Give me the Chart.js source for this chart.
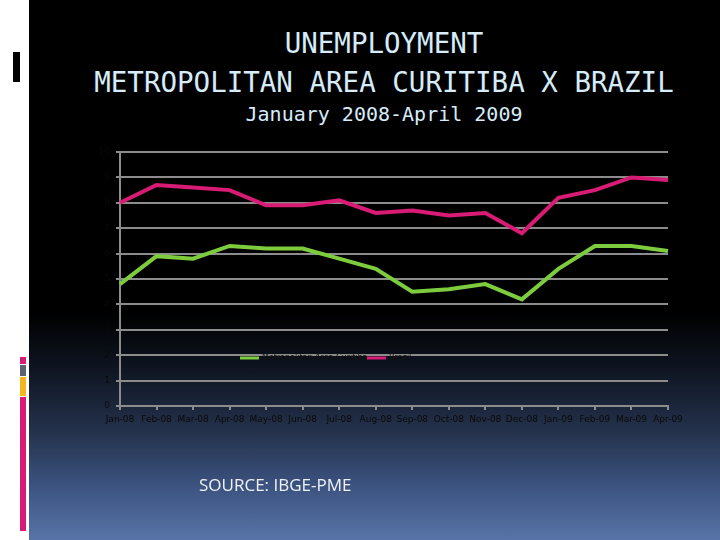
<!DOCTYPE html>
<html>
<head>
<meta charset="utf-8">
<script src="https://cdn.jsdelivr.net/npm/chart.js@4/dist/chart.umd.min.js"></script>
<style>
  html,body{margin:0;padding:0;width:720px;height:540px;overflow:hidden;background:#fff;}
  #slide{position:absolute;left:29px;top:0;width:691px;height:540px;
    background:linear-gradient(to bottom,#000 0%,#000 58%,#0e1420 68%,#24324c 80%,#3c5380 90%,#5874a8 100%);}
  .t{position:absolute;left:0;width:768px;text-align:center;color:#d6ecfa;font-family:"DejaVu Sans Mono",monospace;white-space:nowrap;}
  #src{position:absolute;left:199px;top:473px;color:#eef2f8;font-family:"Open Sans",sans-serif;font-size:17px;white-space:nowrap;}
  #c{position:absolute;left:0;top:0;}
  .dec{position:absolute;}
</style>
</head>
<body>
<div id="slide"></div>
<div class="dec" style="left:13px;top:52px;width:7px;height:30px;background:#000"></div>
<div class="dec" style="left:20px;top:357px;width:6px;height:7px;background:#d81b74"></div>
<div class="dec" style="left:20px;top:365px;width:6px;height:11px;background:#5a6470"></div>
<div class="dec" style="left:20px;top:377px;width:6px;height:19px;background:#f2b71e"></div>
<div class="dec" style="left:20px;top:397px;width:6px;height:134px;background:#d81b74"></div>
<div class="t" style="top:29px;font-size:27.5px;line-height:28px;">UNEMPLOYMENT</div>
<div class="t" style="top:68px;font-size:27.5px;line-height:28px;">METROPOLITAN AREA CURITIBA X BRAZIL</div>
<div class="t" style="top:104px;font-size:20px;line-height:20px;">January 2008-April 2009</div>
<canvas id="c" width="720" height="540"></canvas>
<div id="src">SOURCE: IBGE-PME</div>
<script>
const months = ["Jan-08","Feb-08","Mar-08","Apr-08","May-08","Jun-08","Jul-08","Aug-08","Sep-08","Oct-08","Nov-08","Dec-08","Jan-09","Feb-09","Mar-09","Apr-09"];
const curitiba = [4.8,5.9,5.8,6.3,6.2,6.2,5.8,5.4,4.5,4.6,4.8,4.2,5.4,6.3,6.3,6.1];
const brazil = [8.0,8.7,8.6,8.5,7.9,7.9,8.1,7.6,7.7,7.5,7.6,6.8,8.2,8.5,9.0,8.9];
const seriesNames = ["Metropolitan Area Curitiba","Brazil"];
const yTicks = [0,1,2,3,4,5,6,7,8,9,10];

const inLegend = {
  id:'inLegend',
  afterDraw(chart){
    const ctx = chart.ctx;
    const pos = [[240,358],[367,358]];
    ctx.save();
    ctx.font = '8px "DejaVu Sans", sans-serif';
    ctx.textBaseline = 'middle';
    chart.data.datasets.forEach((ds,i)=>{
      const [x,y] = pos[i];
      ctx.strokeStyle = ds.borderColor;
      ctx.lineWidth = 3;
      ctx.beginPath(); ctx.moveTo(x,y); ctx.lineTo(x+19,y); ctx.stroke();
      ctx.fillStyle = '#111';
      ctx.fillText(ds.label, x+22, y);
    });
    ctx.restore();
  }
};

new Chart(document.getElementById('c'),{
  type:'line',
  data:{
    labels:months,
    datasets:[
      {label:seriesNames[0],data:curitiba,borderColor:'#7ccc3e',borderWidth:4,pointRadius:0,tension:0,fill:false},
      {label:seriesNames[1],data:brazil,borderColor:'#d81b74',borderWidth:4,pointRadius:0,tension:0,fill:false}
    ]
  },
  options:{
    responsive:false,animation:false,
    layout:{padding:{left:90,top:152,right:52,bottom:110}},
    plugins:{legend:{display:false},tooltip:{enabled:false},title:{display:false}},
    scales:{
      x:{
        offset:false,
        afterFit(s){s.height=24;},
        grid:{drawOnChartArea:false,drawTicks:true,tickLength:4,color:'#8c8c8c',lineWidth:2},
        border:{color:'#8c8c8c',width:2},
        ticks:{color:'#0a0a0a',font:{size:9,family:'"DejaVu Sans", sans-serif'},maxRotation:0,autoSkip:false,padding:4}
      },
      y:{
        min:0,max:10,
        afterFit(s){s.width=30;},
        afterBuildTicks(s){s.ticks=yTicks.map(v=>({value:v}));},
        grid:{color:'#8c8c8c',lineWidth:2,drawTicks:true,tickLength:4},
        border:{color:'#8c8c8c',width:2},
        ticks:{color:'#0a0a0a',font:{size:9,family:'"DejaVu Sans", sans-serif'},padding:6}
      }
    }
  },
  plugins:[inLegend]
});
</script>
</body>
</html>
